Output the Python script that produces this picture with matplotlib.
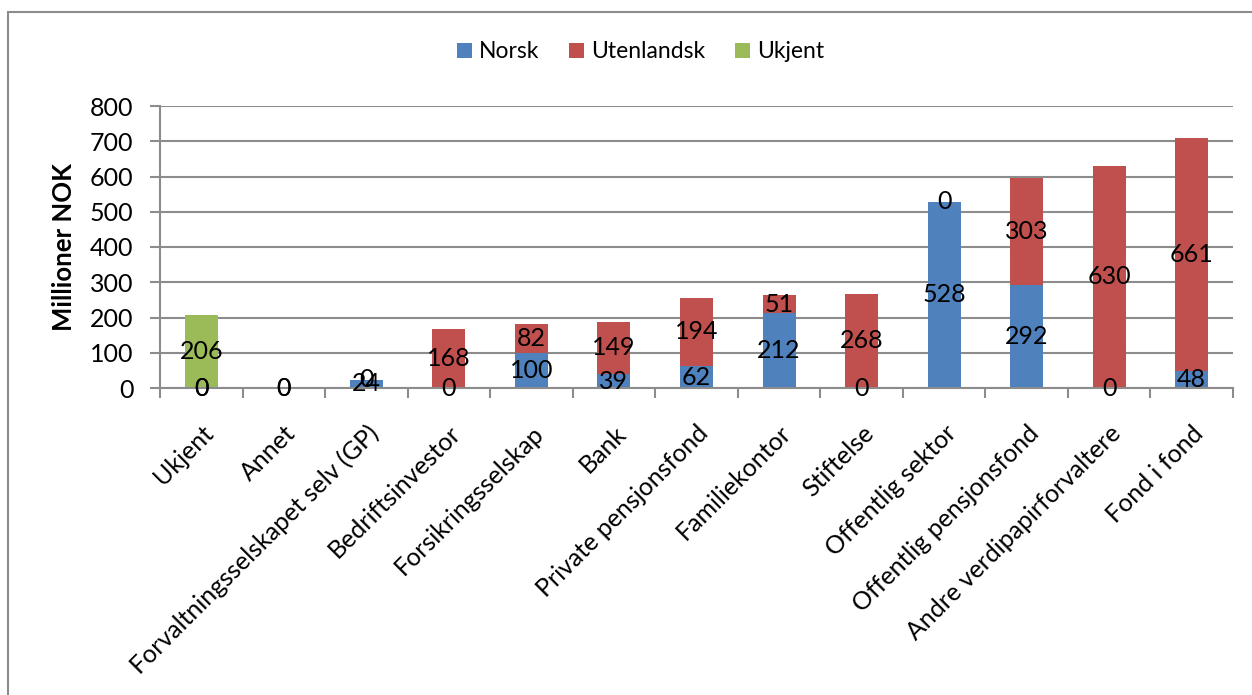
import matplotlib
matplotlib.use("Agg")
import matplotlib.pyplot as plt
from matplotlib.patches import Rectangle
import numpy as np

categories = ["Ukjent", "Annet", "Forvaltningsselskapet selv (GP)", "Bedriftsinvestor",
              "Forsikringsselskap", "Bank", "Private pensjonsfond", "Familiekontor",
              "Stiftelse", "Offentlig sektor", "Offentlig pensjonsfond",
              "Andre verdipapirforvaltere", "Fond i fond"]
norsk = [0, 0, 24, 0, 100, 39, 62, 212, 0, 528, 292, 0, 48]
utenlandsk = [0, 0, 0, 168, 82, 149, 194, 51, 268, 0, 303, 630, 661]
ukjent = [206, None, None, None, None, None, None, None, None, None, None, None, None]
series_names = ["Norsk", "Utenlandsk", "Ukjent"]
colors = ["#4F81BD", "#C0504D", "#9BBB59"]
yticks = [0, 100, 200, 300, 400, 500, 600, 700, 800]

plt.rcParams['font.family'] = ['Lato', 'DejaVu Sans']

fig = plt.figure(figsize=(12.52, 6.95), dpi=100)
ax = fig.add_axes([160/1252, 1-388/695, (1233-160)/1252, (388-106)/695])

x = np.arange(len(categories))
w = 0.4
fs = 18

n = np.array(norsk, dtype=float)
u = np.array(utenlandsk, dtype=float)
b1 = ax.bar(x, n, w, color=colors[0], label=series_names[0], zorder=2)
b2 = ax.bar(x, u, w, bottom=n, color=colors[1], label=series_names[1], zorder=2)
uk_idx = [i for i, v in enumerate(ukjent) if v is not None]
uk_vals = [ukjent[i] for i in uk_idx]
b3 = ax.bar(x[uk_idx], uk_vals, w, bottom=(n + u)[uk_idx], color=colors[2],
            label=series_names[2], zorder=2)

for bars, vals in [(b1, norsk), (b2, utenlandsk), (b3, uk_vals)]:
    ax.bar_label(bars, labels=[str(v) for v in vals], label_type='center',
                 fontsize=fs, color='black', zorder=3)

ax.set_xlim(-0.5, len(categories) - 0.5)
ax.set_ylim(0, 800)
ax.set_yticks(yticks)
ax.set_yticklabels([str(t) for t in yticks], fontsize=fs)
ax.yaxis.grid(True, color='#8C8C8C', linewidth=1.5, zorder=0)
ax.set_axisbelow(True)

ax.set_xticks(x)
ax.set_xticklabels(categories, rotation=45, ha='right', rotation_mode='anchor', fontsize=fs)
ax.tick_params(axis='x', length=0, pad=24)
# minor ticks at category boundaries
ax.set_xticks(np.arange(-0.5, len(categories) + 0.5, 1), minor=True)
ax.tick_params(axis='x', which='minor', length=7, width=1.5, color='#8C8C8C')
ax.tick_params(axis='y', length=7, width=1.5, color='#8C8C8C', pad=12)

for s in ['top', 'right']:
    ax.spines[s].set_visible(False)
for s in ['left', 'bottom']:
    ax.spines[s].set_color('#8C8C8C')
    ax.spines[s].set_linewidth(1.5)

ax.set_ylabel("Millioner NOK", fontsize=18.5, fontweight='bold', labelpad=10)

leg = fig.legend(handles=[b1, b2, b3], labels=series_names, loc='center',
                 bbox_to_anchor=(0.5116, 1-52/695), ncol=3, frameon=False,
                 fontsize=16.5, handlelength=0.65, handleheight=0.65,
                 handletextpad=0.3, columnspacing=1.3)

fig.patches.append(Rectangle((8/1252, -0.1), 1.2, 1.1 - 12/695,
                             transform=fig.transFigure, fill=False,
                             edgecolor='#8C8C8C', linewidth=1.5))

fig.savefig("out.png", dpi=100)
